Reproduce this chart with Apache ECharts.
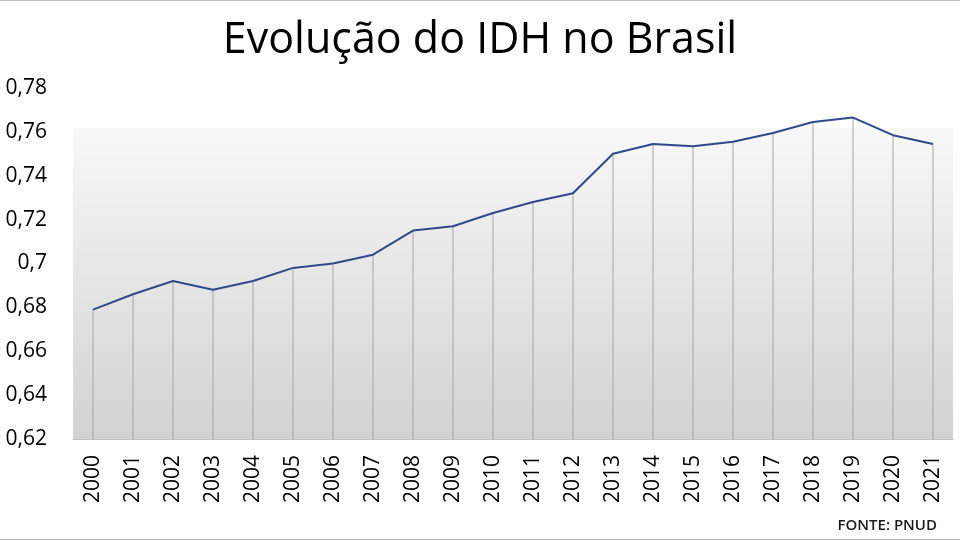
<!DOCTYPE html>
<html>
<head>
<meta charset="utf-8">
<script src="https://cdn.jsdelivr.net/npm/echarts@6/dist/echarts.min.js"></script>
<style>
html,body{margin:0;padding:0;background:#fff;}
#chart{width:960px;height:540px;}
</style>
</head>
<body>
<div id="chart"></div>
<script>
// anos e valores do IDH
var anos = ['2000','2001','2002','2003','2004','2005','2006','2007','2008','2009','2010',
            '2011','2012','2013','2014','2015','2016','2017','2018','2019','2020','2021'];
var idh = [0.679,0.686,0.692,0.688,0.692,0.698,0.700,0.704,0.715,0.717,0.723,
           0.728,0.732,0.750,0.7545,0.7535,0.7555,0.7595,0.7645,0.7665,0.7585,0.7545];
var faixaFundo = [0.62, 0.7617]; // area sombreada do plot

var chart = echarts.init(document.getElementById('chart'));
var fonte = '"Open Sans", "Noto Sans", sans-serif';

var option = {
    backgroundColor: '#fff',
    animation: false,
    title: {
        text: 'Evolução do IDH no Brasil',
        left: 'center',
        top: 14,
        textStyle: {fontFamily: fonte, fontSize: 43, fontWeight: 'normal', color: '#000'}
    },
    grid: {left: 73, right: 7, top: 88, bottom: 101},
    xAxis: {
        type: 'category',
        data: anos,
        boundaryGap: true,
        axisLine: {lineStyle: {color: '#bfbfbf', width: 1}},
        axisTick: {show: false},
        axisLabel: {rotate: 90, margin: 16, fontFamily: fonte, fontSize: 21, color: '#000'}
    },
    yAxis: {
        type: 'value',
        min: 0.62,
        max: 0.78,
        interval: 0.02,
        axisLine: {show: false},
        axisTick: {show: false},
        splitLine: {show: false},
        axisLabel: {
            margin: 26,
            fontFamily: fonte,
            fontSize: 21,
            color: '#000',
            formatter: function (v) { return String(+v.toFixed(2)).replace('.', ','); }
        }
    },
    series: [
        {
            // linhas verticais de cada ponto ate o eixo
            type: 'bar',
            data: idh,
            barWidth: 1,
            itemStyle: {color: '#a8a8a8'},
            silent: true,
            markArea: {
                silent: true,
                itemStyle: {
                    color: new echarts.graphic.LinearGradient(0, 0, 0, 1, [
                        {offset: 0, color: '#f8f8f8'},
                        {offset: 0.5, color: '#e5e5e5'},
                        {offset: 1, color: '#d2d2d2'}
                    ])
                },
                data: [[{yAxis: faixaFundo[1]}, {yAxis: faixaFundo[0]}]]
            },
            z: 1
        },
        {
            type: 'line',
            data: idh,
            symbol: 'none',
            lineStyle: {color: '#2f4a8c', width: 2},
            z: 3
        }
    ],
    graphic: [
        {
            type: 'text',
            right: 23,
            bottom: 7,
            style: {text: 'FONTE: PNUD', font: '600 15px ' + fonte, fill: '#1a1a1a'}
        },
        {type: 'rect', shape: {x: 0, y: 0, width: 960, height: 1}, style: {fill: '#bdbdbd'}},
        {type: 'rect', shape: {x: 0, y: 539, width: 960, height: 1}, style: {fill: '#bdbdbd'}}
    ]
};
chart.setOption(option);
window.onresize = function () { chart.resize(); };
</script>
</body>
</html>
